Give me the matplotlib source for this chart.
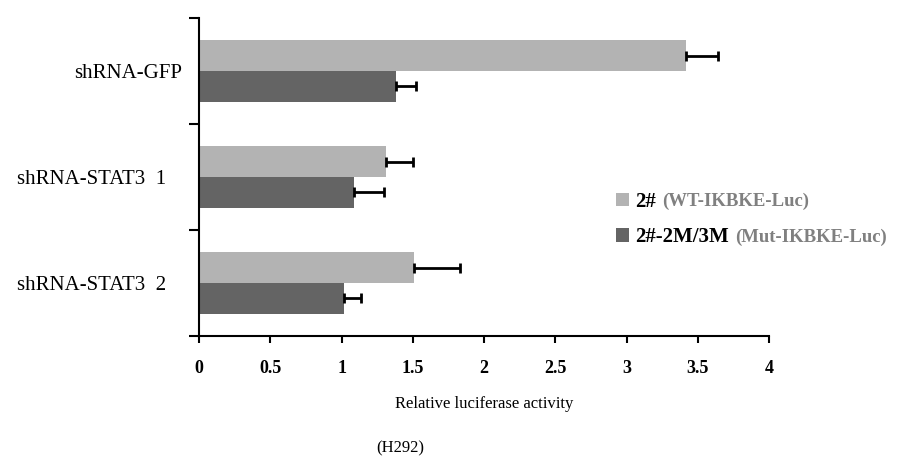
import matplotlib.pyplot as plt
import numpy as np

plt.rcParams['font.family'] = ['Liberation Serif', 'DejaVu Serif']

# dados
categorias = ["shRNA-GFP", "shRNA-STAT3  1   ", "shRNA-STAT3  2   "]
wt_vals = [3.42, 1.31, 1.51]
wt_err = [0.22, 0.19, 0.32]
mut_vals = [1.38, 1.09, 1.02]
mut_err = [0.14, 0.21, 0.12]
rotulo_wt = ("2#", "(WT-IKBKE-Luc)")
rotulo_mut = ("2#-2M/3M", "(Mut-IKBKE-Luc)")
xticks = [0, 0.5, 1, 1.5, 2, 2.5, 3, 3.5, 4]

fig = plt.figure(figsize=(9.01, 4.69), dpi=100)
ax = fig.add_axes([0.2209, 0.2836, 0.6326, 0.678])

centros = np.arange(len(categorias))[::-1] + 0.5
h = 0.29
err_kw = dict(ecolor="black", elinewidth=2, capsize=3.3, capthick=2)

ax.barh(centros + h / 2, wt_vals, height=h, color="#b3b3b3",
        xerr=[np.zeros(3), wt_err], error_kw=err_kw, label=rotulo_wt[0])
ax.barh(centros - h / 2, mut_vals, height=h, color="#646464",
        xerr=[np.zeros(3), mut_err], error_kw=err_kw, label=rotulo_mut[0])

ax.set_xlim(0, 4)
ax.set_ylim(0, 3)
ax.set_xticks(xticks)
ax.set_xticklabels([f"{v:g}" for v in xticks], fontsize=13, fontweight="bold")
ax.tick_params(axis="x", direction="out", length=5, width=1.5, pad=12)

# ticks de fronteira + rótulos nos centros
ax.set_yticks([0, 1, 2, 3])
ax.set_yticklabels([])
ax.tick_params(axis="y", which="major", direction="out", length=7, width=1.5)
ax.set_yticks(centros, minor=True)
ax.set_yticklabels(categorias, minor=True, fontsize=15)
ax.tick_params(axis="y", which="minor", length=0, pad=12)

for s in ["top", "right"]:
    ax.spines[s].set_visible(False)
for s in ["left", "bottom"]:
    ax.spines[s].set_linewidth(1.5)

ax.set_xlabel("Relative luciferase activity", fontsize=12, labelpad=14)
fig.text(0.444, 0.045, "(H292)", ha="center", va="center", fontsize=12)

leg = ax.legend(loc="upper left", bbox_to_anchor=(0.663, 0.631, 0, 0),
                bbox_transform=fig.transFigure, frameon=False,
                prop=dict(size=15, weight="bold"), handlelength=0.6,
                handleheight=0.6, handletextpad=0.3, labelspacing=0.75)
fig.canvas.draw()
for txt, extra in zip(leg.get_texts(), [rotulo_wt[1], rotulo_mut[1]]):
    ax.annotate(extra, xy=(1, 0.5), xycoords=txt, xytext=(5, 0),
                textcoords="offset points", va="center", ha="left",
                fontsize=13.5, fontweight="bold", color="#808080", zorder=10)

fig.savefig("out.png", dpi=100)
